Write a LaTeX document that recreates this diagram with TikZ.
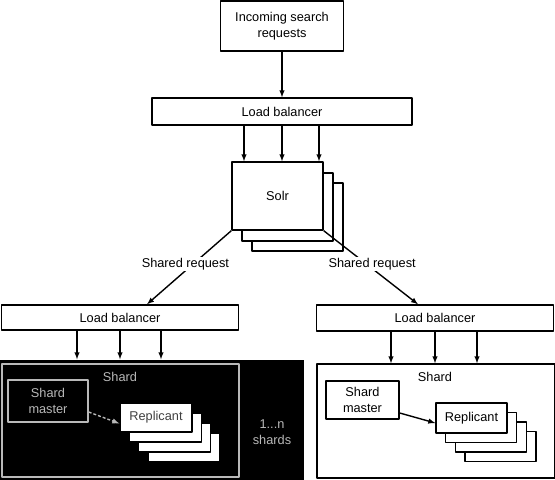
\documentclass[tikz,border=0pt]{standalone}
\usepackage{fontspec}
\setmainfont{Liberation Sans}
\usetikzlibrary{positioning}
\begin{document}
\begin{tikzpicture}[x=1bp,y=-1bp,line join=round,line width=1.4pt,
  kasten/.style={draw,fill=white,inner sep=0pt,align=center,font=\fontsize{12.8}{15.8}\selectfont},
  beschr/.style={inner sep=1pt,align=center,font=\fontsize{12.8}{15.8}\selectfont},
  pfeil/.style={->,>=latex}]
\useasboundingbox (0,0) rectangle (555,480);

%Anfrage und Verteiler
\node[kasten,minimum width=123bp,minimum height=50bp] (anfrage) at (282,26) {Incoming search\\requests};
\node[kasten,minimum width=260bp,minimum height=27bp] (lbo) at (282,111.5) {Load balancer};
\draw[pfeil] (anfrage.south) -- (anfrage.south |- lbo.north);

%Solr
\foreach \i in {2,1}{
\draw[fill=white] (232+10*\i,163+10*\i) rectangle +(91,68);
}
\node[kasten,minimum width=91bp,minimum height=68bp] (solr) at (277.5,196) {Solr};
\foreach \dx in {-38,0,37}{
\draw[pfeil] ([xshift=\dx bp]lbo.south) -- ([xshift=\dx bp]lbo.south |- solr.north);
}

%Verteiler unten
\node[kasten,minimum width=237bp,minimum height=25bp] (lbl) at (120,317.5) {Load balancer};
\node[kasten,minimum width=237bp,minimum height=26bp] (lbr) at (435,318) {Load balancer};
\draw[pfeil] (solr.south west) -- node[beschr,fill=white,pos=0.45,xshift=-8bp] (anfl) {Shared request} ([xshift=27bp]lbl.north);
\draw[pfeil] (solr.south east) -- node[beschr,fill=white,pos=0.45,xshift=6bp] (anfr) {Shared request} ([xshift=-17bp]lbr.north);

%Shard links (dunkel)
\node[fill=black,inner sep=0pt,minimum width=304bp,minimum height=120bp] (dunkel) at (152,420) {};
\node[draw=gray!55,inner sep=0pt,minimum width=237bp,minimum height=113bp] (shardl) at (120.5,420.5) {};
\node[beschr,text=gray!55] (shardltxt) at (120,377) {Shard};
\node[kasten,draw=gray!55,fill=black,text=gray!55,minimum width=80bp,minimum height=42bp] (masterl) at (48,401) {Shard\\master};
\foreach \i in {3,2,1}{
\draw[fill=white,draw=black] (120+9.3*\i,403+10*\i) rectangle +(72,29);
}
\node[kasten,draw=black,text=black!75,minimum width=72bp,minimum height=29bp] (repl) at (156,417.5) {Replicant};
\draw[pfeil,gray!55,densely dashed] ([yshift=-11bp]masterl.east) -- ([yshift=-6bp]repl.west);
\node[beschr,text=gray!55] (anzahl) at (272,432) {1...n\\shards};
\foreach \dx in {-43,0,41}{
\draw[pfeil] ([xshift=\dx bp]lbl.south) -- ([xshift=\dx bp]lbl.south |- dunkel.north);
}

%Shard rechts
\node[kasten,minimum width=238bp,minimum height=114bp] (shardr) at (436,421) {};
\node[beschr] (shardrtxt) at (435,377) {Shard};
\node[kasten,minimum width=73bp,minimum height=38bp] (masterr) at (362.5,400) {Shard\\master};
\foreach \i in {3,2,1}{
\draw[fill=white] (436+9.7*\i,403+9.5*\i) rectangle +(71,30);
}
\node[kasten,minimum width=71bp,minimum height=30bp] (replr) at (471.5,418) {Replicant};
\draw[pfeil] ([yshift=-13bp]masterr.east) -- ([yshift=-5bp]replr.west);
\foreach \dx in {-44,0,42}{
\draw[pfeil] ([xshift=\dx bp]lbr.south) -- ([xshift=\dx bp]lbr.south |- shardr.north);
}

\end{tikzpicture}
\end{document}
